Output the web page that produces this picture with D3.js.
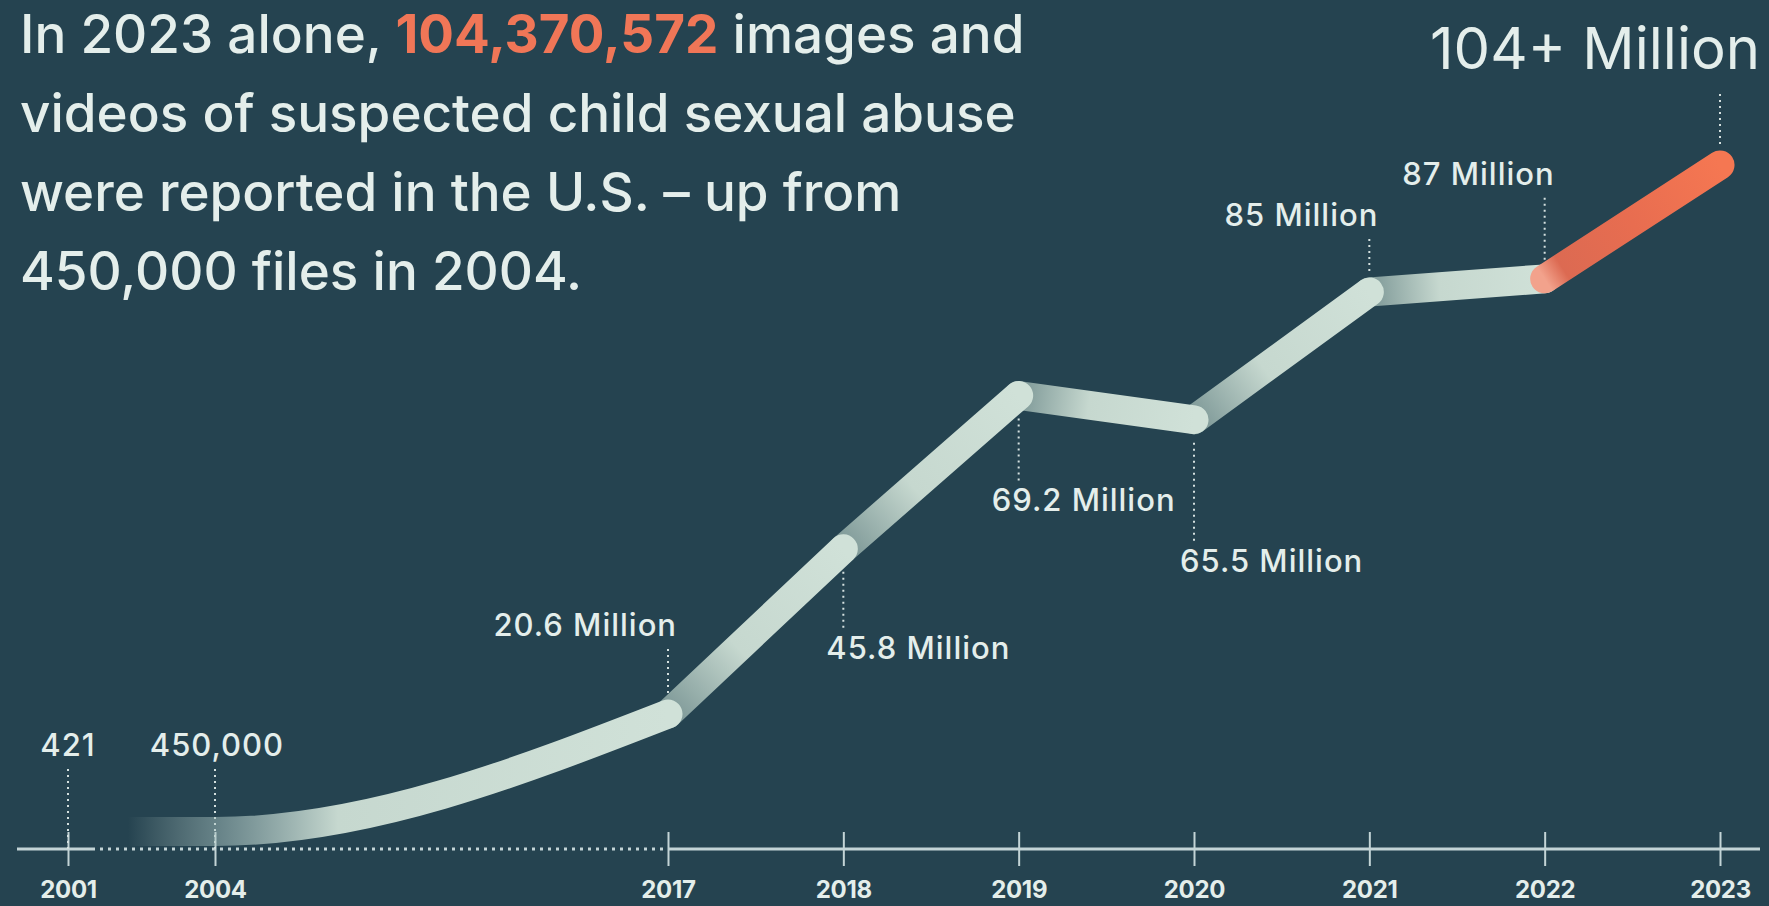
<!DOCTYPE html>
<html>
<head>
<meta charset="utf-8">
<script src="https://cdn.jsdelivr.net/npm/d3@7"></script>
<style>
  html, body { margin: 0; padding: 0; background: #254350; }
  svg { display: block; }
</style>
</head>
<body>
<div id="chart"></div>
<script>
// 数据
const years = [2001, 2004, 2017, 2018, 2019, 2020, 2021, 2022, 2023];
const reports = [421, 450000, 20600000, 45800000, 69200000, 65500000, 85000000, 87000000, 104370572];
const valueLabels = ["421", "450,000", "20.6 Million", "45.8 Million", "69.2 Million",
                     "65.5 Million", "85 Million", "87 Million", "104+ Million"];
const titleLines = [
    ["In 2023 alone, ", "104,370,572", " images and"],
    ["videos of suspected child sexual abuse"],
    ["were reported in the U.S. – up from"],
    ["450,000 files in 2004."]
];

// 标签摆放（相对于数据点）
const labelLayout = [
    {anchor: "middle", dx: 0,  dy: -93},
    {anchor: "middle", dx: 2,  dy: -93},
    {anchor: "end",    dx: 9,  dy: -78},
    {anchor: "start",  dx: -17, dy: 110},
    {anchor: "start",  dx: -27, dy: 116},
    {anchor: "start",  dx: -14, dy: 152},
    {anchor: "end",    dx: 9,  dy: -66},
    {anchor: "end",    dx: 10, dy: -94},
    {anchor: "end",    dx: 40, dy: -96}
];

const W = 1769, H = 906;
const LINE_W = 29;
const FONT = "Inter, 'Open Sans', sans-serif";
const TEXT_COLOR = "#e4eeeb";
const LIGHT = "#c6d8cf";
const DARK = "#7c9796";

const svg = d3.select("#chart").append("svg")
    .attr("width", W)
    .attr("height", H);

svg.append("rect").attr("width", W).attr("height", H).attr("fill", "#254350");

const defs = svg.append("defs");

// 比例尺（2001-2004、2004-2017 压缩显示）
const x = d3.scaleLinear()
    .domain([2001, 2004, 2017, 2023])
    .range([68, 215, 668, 1720]);

const y = d3.scaleLinear()
    .domain([0, 104370572])
    .range([849, 165]);

const base = y(0);
const pts = years.map((yr, i) => ({
    year: yr,
    value: reports[i],
    px: x(yr),
    // 低值的线条贴着轴线
    py: Math.min(y(reports[i]), base - LINE_W / 2 - 3)
}));

// 轴线：实线 + 虚线
const axisColor = "#c3d4d6";
svg.append("line")
    .attr("x1", 17).attr("x2", x(2001) + 24)
    .attr("y1", base).attr("y2", base)
    .attr("stroke", axisColor).attr("stroke-width", 3);
svg.append("line")
    .attr("x1", x(2001) + 24).attr("x2", x(2017))
    .attr("y1", base).attr("y2", base)
    .attr("stroke", axisColor).attr("stroke-width", 3)
    .attr("stroke-dasharray", "3,5");
svg.append("line")
    .attr("x1", x(2017)).attr("x2", 1760)
    .attr("y1", base).attr("y2", base)
    .attr("stroke", axisColor).attr("stroke-width", 3);

// 刻度和年份
const gAxis = svg.append("g")
    .attr("transform", `translate(0, ${base})`)
    .call(d3.axisBottom(x).tickValues(years).tickFormat(d3.format("d")).tickSize(17));
gAxis.select(".domain").remove();
gAxis.selectAll(".tick line")
    .attr("y1", -17).attr("y2", 17)
    .attr("stroke", axisColor).attr("stroke-width", 2);
gAxis.selectAll(".tick text")
    .attr("y", 49).attr("dy", 0)
    .attr("fill", TEXT_COLOR)
    .style("font-family", FONT)
    .style("font-size", "24px")
    .style("font-weight", 700)
    .style("letter-spacing", "-0.3px");

// 引导虚线
const leaders = svg.append("g");
pts.forEach((p, i) => {
    const L = labelLayout[i];
    const ty = (i < 2 ? base : p.py) + L.dy;
    let y1, y2;
    if (L.dy < 0) {
        y1 = ty + (i === pts.length - 1 ? 25 : 13);
        y2 = i < 2 ? base : p.py - 19;
    } else {
        y1 = p.py + 23;
        y2 = ty - 28;
    }
    leaders.append("line")
        .attr("x1", p.px).attr("x2", p.px)
        .attr("y1", y1).attr("y2", y2)
        .attr("stroke", "#d4e0df")
        .attr("stroke-width", 2)
        .attr("stroke-dasharray", "2,4");
});

const seg = d3.line().x(d => d.px).y(d => d.py);

// 灰色线段，倒序绘制使前一段的圆头在上面
const grayIdx = d3.range(2, 7).reverse();
grayIdx.forEach(i => {
    const a = pts[i], b = pts[i + 1];
    const gid = "seg" + i;
    const g = defs.append("linearGradient")
        .attr("id", gid)
        .attr("gradientUnits", "userSpaceOnUse")
        .attr("x1", a.px).attr("y1", a.py)
        .attr("x2", b.px).attr("y2", b.py);
    g.append("stop").attr("offset", 0).attr("stop-color", DARK);
    g.append("stop").attr("offset", 0.4).attr("stop-color", LIGHT);
    g.append("stop").attr("offset", 1).attr("stop-color", "#d0e1d8");
    svg.append("path")
        .attr("d", seg([a, b]))
        .attr("fill", "none")
        .attr("stroke", `url(#${gid})`)
        .attr("stroke-width", LINE_W)
        .attr("stroke-linecap", "round");
});

// 2001-2017 的平滑曲线
const early = pts.slice(0, 3);
const eg = defs.append("linearGradient")
    .attr("id", "early")
    .attr("gradientUnits", "userSpaceOnUse")
    .attr("x1", x(2001)).attr("y1", 0)
    .attr("x2", x(2017)).attr("y2", 0);
eg.append("stop").attr("offset", 0.1).attr("stop-color", LIGHT).attr("stop-opacity", 0);
eg.append("stop").attr("offset", 0.25).attr("stop-color", "#a9c3c0").attr("stop-opacity", 0.5);
eg.append("stop").attr("offset", 0.45).attr("stop-color", LIGHT).attr("stop-opacity", 1);
eg.append("stop").attr("offset", 1).attr("stop-color", "#d0e1d8").attr("stop-opacity", 1);
svg.append("path")
    .attr("d", d3.line().x(d => d.px).y(d => d.py).curve(d3.curveMonotoneX)(early))
    .attr("fill", "none")
    .attr("stroke", "url(#early)")
    .attr("stroke-width", LINE_W)
    .attr("stroke-linecap", "round");

// 2022-2023 橙色线段
const a = pts[7], b = pts[8];
const og = defs.append("linearGradient")
    .attr("id", "last")
    .attr("gradientUnits", "userSpaceOnUse")
    .attr("x1", a.px).attr("y1", a.py)
    .attr("x2", b.px).attr("y2", b.py);
og.append("stop").attr("offset", 0).attr("stop-color", "#f2a28c");
og.append("stop").attr("offset", 0.1).attr("stop-color", "#dc6a52");
og.append("stop").attr("offset", 0.5).attr("stop-color", "#e86d50");
og.append("stop").attr("offset", 1).attr("stop-color", "#f57752");
svg.append("path")
    .attr("d", seg([a, b]))
    .attr("fill", "none")
    .attr("stroke", "url(#last)")
    .attr("stroke-width", LINE_W)
    .attr("stroke-linecap", "round");

// 数值标签
pts.forEach((p, i) => {
    const L = labelLayout[i];
    const last = i === pts.length - 1;
    svg.append("text")
        .attr("x", p.px + L.dx)
        .attr("y", (i < 2 ? base : p.py) + L.dy)
        .attr("text-anchor", L.anchor)
        .attr("fill", TEXT_COLOR)
        .style("font-family", FONT)
        .style("font-size", last ? "58px" : "31px")
        .style("font-weight", last ? 400 : 500)
        .style("letter-spacing", last ? "0px" : "1px")
        .text(valueLabels[i]);
});

// 标题
const title = svg.append("text")
    .attr("x", 20)
    .attr("fill", TEXT_COLOR)
    .style("font-family", FONT)
    .style("font-size", "53px")
    .style("font-weight", 500);
titleLines.forEach((parts, li) => {
    parts.forEach((t, k) => {
        const ts = title.append("tspan").text(t);
        if (k === 0) ts.attr("x", 20).attr("y", 53 + li * 79);
        if (t === "104,370,572") ts.attr("fill", "#f07657").style("font-weight", 700);
    });
});
</script>
</body>
</html>
